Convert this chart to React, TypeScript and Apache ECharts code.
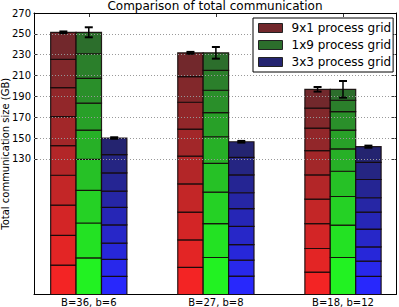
import React, { useEffect, useRef } from 'react';
import * as echarts from 'echarts';

const categories = ['B=36, b=6', 'B=27, b=8', 'B=18, b=12'];
const xPositions = [0, 1, 2];
const seriesNames = ['9x1 process grid', '1x9 process grid', '3x3 process grid'];

// stacked segment sizes (bottom -> top), one array per category
const segments9x1 = [
  [28.2, 28.6, 28.9, 28.7, 28.3, 28.0, 27.7, 27.1, 26.0],
  [26.0, 26.3, 26.8, 27.1, 26.5, 26.0, 25.7, 24.5, 22.9],
  [21.5, 22.6, 23.9, 23.5, 23.2, 23.3, 21.6, 19.1, 18.1],
];
const segments1x9 = [
  [35.1, 33.5, 31.2, 29.9, 28.0, 25.8, 23.8, 23.6, 20.6],
  [35.5, 32.5, 30.1, 27.7, 25.5, 23.2, 21.4, 19.1, 16.8],
  [35.5, 31.1, 27.4, 24.2, 21.4, 18.1, 17.8, 10.8, 10.5],
];
const segments3x3 = [
  [17.4, 16.2, 15.6, 17.5, 16.8, 15.6, 17.5, 17.5, 16.0],
  [17.7, 15.2, 15.0, 17.5, 16.9, 15.3, 17.1, 16.9, 14.9],
  [17.4, 14.6, 13.6, 17.2, 16.2, 13.8, 17.5, 16.5, 15.0],
];
const errors9x1 = [0.8, 0.9, 2.2];
const errors1x9 = [4.8, 5.6, 8.0];
const errors3x3 = [0.7, 0.8, 1.0];

const yTicks = [130, 150, 170, 190, 210, 230, 250, 270];

const FONT = 'DejaVu Sans';
const BAR_W = 0.2;
const OFFSETS = [-0.2, 0, 0.2];
const X_MIN = -0.431;
const X_MAX = 2.417;

const PALETTES: [number[], number[]][] = [
  [[243, 36, 36], [114, 40, 44]],
  [[34, 242, 34], [44, 110, 44]],
  [[40, 40, 252], [36, 36, 112]],
];

function segColor(p: number, i: number, n: number): string {
  const t = n > 1 ? i / (n - 1) : 0;
  const [a, b] = PALETTES[p];
  const c = a.map((v, k) => Math.round(v + (b[k] - v) * t));
  return `rgb(${c[0]},${c[1]},${c[2]})`;
}

export default function App() {
  const ref = useRef<HTMLDivElement>(null);
  useEffect(() => {
    document.body.style.margin = '0';
    if (!ref.current) return;
    const chart = echarts.init(ref.current, null, { renderer: 'svg' });
    const allSegments = [segments9x1, segments1x9, segments3x3];
    const allErrors = [errors9x1, errors1x9, errors3x3];

    const barSeries = allSegments.map((segsByCat, s) => {
      const data: number[][] = [];
      segsByCat.forEach((segs, c) => {
        let acc = 0;
        segs.forEach((v, i) => {
          data.push([xPositions[c] + OFFSETS[s], acc, acc + v, i, segs.length]);
          acc += v;
        });
      });
      return {
        type: 'custom',
        name: seriesNames[s],
        xAxisIndex: 0,
        yAxisIndex: 0,
        itemStyle: { color: segColor(s, 8, 9), borderColor: '#222', borderWidth: 1 },
        encode: { x: 0, y: [1, 2] },
        data,
        z: 3,
        renderItem: (params: any, api: any) => {
          const x = api.value(0);
          const lo = api.value(1);
          const hi = api.value(2);
          const i = api.value(3);
          const n = api.value(4);
          const tl = api.coord([x - BAR_W / 2, hi]);
          const br = api.coord([x + BAR_W / 2, lo]);
          return {
            type: 'rect',
            shape: { x: tl[0], y: tl[1], width: br[0] - tl[0], height: br[1] - tl[1] },
            style: { fill: segColor(s, i, n), stroke: 'rgba(20,10,10,0.9)', lineWidth: 1.2 },
          };
        },
      };
    });

    const errData: number[][] = [];
    allSegments.forEach((segsByCat, s) => {
      segsByCat.forEach((segs, c) => {
        const total = segs.reduce((a, b) => a + b, 0);
        errData.push([xPositions[c] + OFFSETS[s], total - allErrors[s][c], total + allErrors[s][c]]);
      });
    });

    const errSeries = {
      type: 'custom',
      name: 'errors',
      xAxisIndex: 0,
      yAxisIndex: 0,
      encode: { x: 0, y: [1, 2] },
      data: errData,
      z: 5,
      renderItem: (params: any, api: any) => {
        const x = api.value(0);
        const pLo = api.coord([x, api.value(1)]);
        const pHi = api.coord([x, api.value(2)]);
        const cap = 4;
        return {
          type: 'group',
          children: [
            { type: 'line', shape: { x1: pLo[0], y1: pLo[1], x2: pHi[0], y2: pHi[1] }, style: { stroke: '#000', lineWidth: 1.5 } },
            { type: 'line', shape: { x1: pLo[0] - cap, y1: pLo[1], x2: pLo[0] + cap, y2: pLo[1] }, style: { stroke: '#000', lineWidth: 2 } },
            { type: 'line', shape: { x1: pHi[0] - cap, y1: pHi[1], x2: pHi[0] + cap, y2: pHi[1] }, style: { stroke: '#000', lineWidth: 2 } },
          ],
        };
      },
    };

    const axisLine = { show: true, onZero: false, lineStyle: { color: '#000', width: 1 } };
    const tick = { show: true, inside: true, length: 4, lineStyle: { color: '#000', width: 0.8 } };

    chart.setOption({
      animation: false,
      backgroundColor: '#fff',
      textStyle: { fontFamily: FONT },
      title: {
        text: 'Comparison of total communication',
        left: 215,
        textAlign: 'center',
        top: 0,
        padding: 0,
        textStyle: { fontFamily: FONT, fontSize: 12, fontWeight: 'normal', color: '#000' },
      },
      legend: {
        data: seriesNames,
        orient: 'vertical',
        left: 253,
        top: 18,
        itemWidth: 24,
        itemHeight: 9,
        itemGap: 5,
        padding: [4, 2, 4, 5],
        borderColor: '#000',
        borderWidth: 1,
        backgroundColor: '#fff',
        selectedMode: false,
        icon: 'rect',
        itemStyle: { borderColor: '#222', borderWidth: 1 },
        textStyle: { fontFamily: FONT, fontSize: 12, color: '#000', padding: [0, 0, 0, 4] },
        z: 10,
      },
      grid: { left: 34, right: 3, top: 13, bottom: 12.5, containLabel: false, outerBoundsMode: 'none' },
      xAxis: [
        {
          type: 'value',
          position: 'bottom',
          min: X_MIN,
          max: X_MAX,
          axisLine,
          axisTick: { ...tick, customValues: xPositions },
          axisLabel: {
            customValues: xPositions,
            formatter: (v: number) => categories[Math.round(v)] ?? '',
            fontFamily: FONT,
            fontSize: 10,
            color: '#000',
            margin: 3,
          },
          splitLine: { show: false },
        },
        {
          type: 'value',
          position: 'top',
          min: X_MIN,
          max: X_MAX,
          axisLine,
          axisTick: { ...tick, customValues: xPositions },
          axisLabel: { show: false },
          splitLine: { show: false },
        },
      ],
      yAxis: [
        {
          type: 'value',
          position: 'left',
          min: 0,
          max: 270,
          name: 'Total communication size (GB)',
          nameLocation: 'middle',
          nameGap: 24,
          nameMoveOverlap: false,
          nameTextStyle: { fontFamily: FONT, fontSize: 10, color: '#000' },
          axisLine,
          axisTick: { ...tick, customValues: yTicks },
          axisLabel: { customValues: yTicks, fontFamily: FONT, fontSize: 10, color: '#000', margin: 3 },
          splitLine: { show: false },
        },
        {
          type: 'value',
          position: 'right',
          min: 0,
          max: 270,
          axisLine,
          axisTick: { ...tick, customValues: yTicks },
          axisLabel: { show: false },
          splitLine: { show: false },
        },
      ],
      series: [
        ...barSeries,
        errSeries,
        {
          type: 'line',
          name: 'grid',
          data: [],
          xAxisIndex: 0,
          yAxisIndex: 0,
          silent: true,
          z: 1,
          markLine: {
            silent: true,
            symbol: 'none',
            label: { show: false },
            lineStyle: { color: '#999', type: [1, 2], width: 1 },
            data: yTicks.slice(0, -1).map((v) => ({ yAxis: v })),
          },
        },
      ],
    });
    return () => chart.dispose();
  }, []);
  return <div ref={ref} style={{ width: 399, height: 307, position: 'absolute', left: 0, top: 0 }} />;
}
